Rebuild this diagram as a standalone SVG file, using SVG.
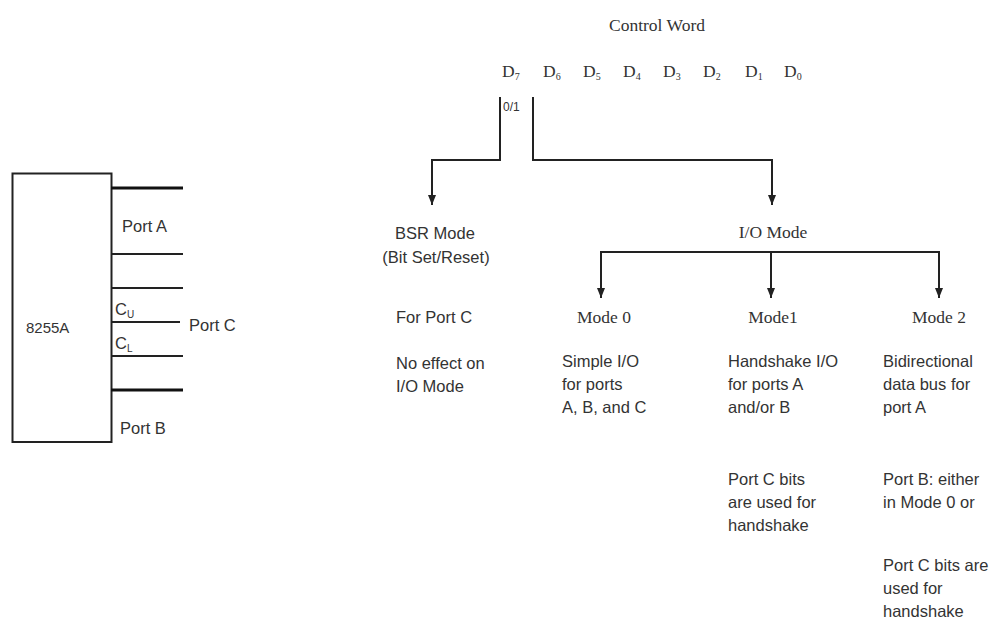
<svg xmlns="http://www.w3.org/2000/svg" width="994" height="628" viewBox="0 0 994 628">
<defs>
<marker id="ah" viewBox="0 0 10 8" refX="10" refY="4" markerWidth="10" markerHeight="8" markerUnits="userSpaceOnUse" orient="auto-start-reverse">
<path d="M0,0 L10,4 L0,8 Z" fill="#222"/>
</marker>
</defs>
<style>
.s{font-family:"Liberation Sans",Arial,sans-serif;font-size:16.5px;fill:#333}
.r{font-family:"Liberation Serif","Times New Roman",serif;font-size:17.5px;fill:#333}
.sub{font-size:10px}
.ln{stroke:#222;stroke-width:2;fill:none}
.tk{stroke:#111;stroke-width:3;fill:none}
.m{text-anchor:middle}
</style>
<rect width="994" height="628" fill="#fff"/>

<g id="chip">
<rect x="12.5" y="173.5" width="99" height="268.5" fill="#fff" stroke="#222" stroke-width="2"/>
<text class="s" x="26" y="333" style="font-size:15px">8255A</text>
</g>
<g id="ports">
<line class="tk" x1="111" y1="188" x2="183" y2="188"/>
<line class="ln" x1="111" y1="254" x2="183" y2="254"/>
<line class="ln" x1="111" y1="288" x2="183" y2="288"/>
<line class="ln" x1="111" y1="322" x2="180" y2="322"/>
<line class="ln" x1="111" y1="356" x2="183" y2="356"/>
<line class="tk" x1="111" y1="390" x2="183" y2="390"/>
<text class="s" x="122" y="232">Port A</text>
<text class="s" x="115" y="315">C<tspan class="sub" dy="3">U</tspan></text>
<text class="s" x="189" y="331">Port C</text>
<text class="s" x="115" y="349">C<tspan class="sub" dy="3">L</tspan></text>
<text class="s" x="120" y="434">Port B</text>
</g>

<g id="control-word">
<text class="r m" x="657" y="31">Control Word</text>
<text class="r" x="502" y="77">D<tspan class="sub" dy="3">7</tspan></text>
<text class="r" x="543" y="77">D<tspan class="sub" dy="3">6</tspan></text>
<text class="r" x="583" y="77">D<tspan class="sub" dy="3">5</tspan></text>
<text class="r" x="623" y="77">D<tspan class="sub" dy="3">4</tspan></text>
<text class="r" x="663" y="77">D<tspan class="sub" dy="3">3</tspan></text>
<text class="r" x="703" y="77">D<tspan class="sub" dy="3">2</tspan></text>
<text class="r" x="745" y="77">D<tspan class="sub" dy="3">1</tspan></text>
<text class="r" x="784" y="77">D<tspan class="sub" dy="3">0</tspan></text>
<text class="s" x="503" y="111" style="font-size:12px">0/1</text>
</g>

<g id="connectors">
<path class="ln" d="M500,97 V160 H432 V205" marker-end="url(#ah)"/>
<path class="ln" d="M533,97 V160 H772 V205" marker-end="url(#ah)"/>
<path class="ln" d="M601,298 V252 H939 V298" marker-start="url(#ah)" marker-end="url(#ah)"/>
<path class="ln" d="M771,252 V298" marker-end="url(#ah)"/>
</g>

<g id="bsr">
<text class="s m" x="435" y="239">BSR Mode</text>
<text class="s m" x="436" y="263">(Bit Set/Reset)</text>
<text class="s" x="396" y="323">For Port C</text>
<text class="s" x="396" y="369">No effect on</text>
<text class="s" x="396" y="392">I/O Mode</text>
</g>

<g id="io-mode">
<text class="r m" x="773" y="238">I/O Mode</text>
</g>

<g id="mode0">
<text class="r m" x="604" y="323">Mode 0</text>
<text class="s" x="562" y="367">Simple I/O</text>
<text class="s" x="562" y="390">for ports</text>
<text class="s" x="562" y="413">A, B, and C</text>
</g>

<g id="mode1">
<text class="r m" x="773" y="323">Mode1</text>
<text class="s" x="728" y="367">Handshake I/O</text>
<text class="s" x="728" y="390">for ports A</text>
<text class="s" x="728" y="413">and/or B</text>
<text class="s" x="728" y="485">Port C bits</text>
<text class="s" x="728" y="508">are used for</text>
<text class="s" x="728" y="531">handshake</text>
</g>

<g id="mode2">
<text class="r m" x="939" y="323">Mode 2</text>
<text class="s" x="883" y="367">Bidirectional</text>
<text class="s" x="883" y="390">data bus for</text>
<text class="s" x="883" y="413">port A</text>
<text class="s" x="883" y="485">Port B: either</text>
<text class="s" x="883" y="508">in Mode 0 or</text>
<text class="s" x="883" y="571">Port C bits are</text>
<text class="s" x="883" y="594">used for</text>
<text class="s" x="883" y="617">handshake</text>
</g>
</svg>
